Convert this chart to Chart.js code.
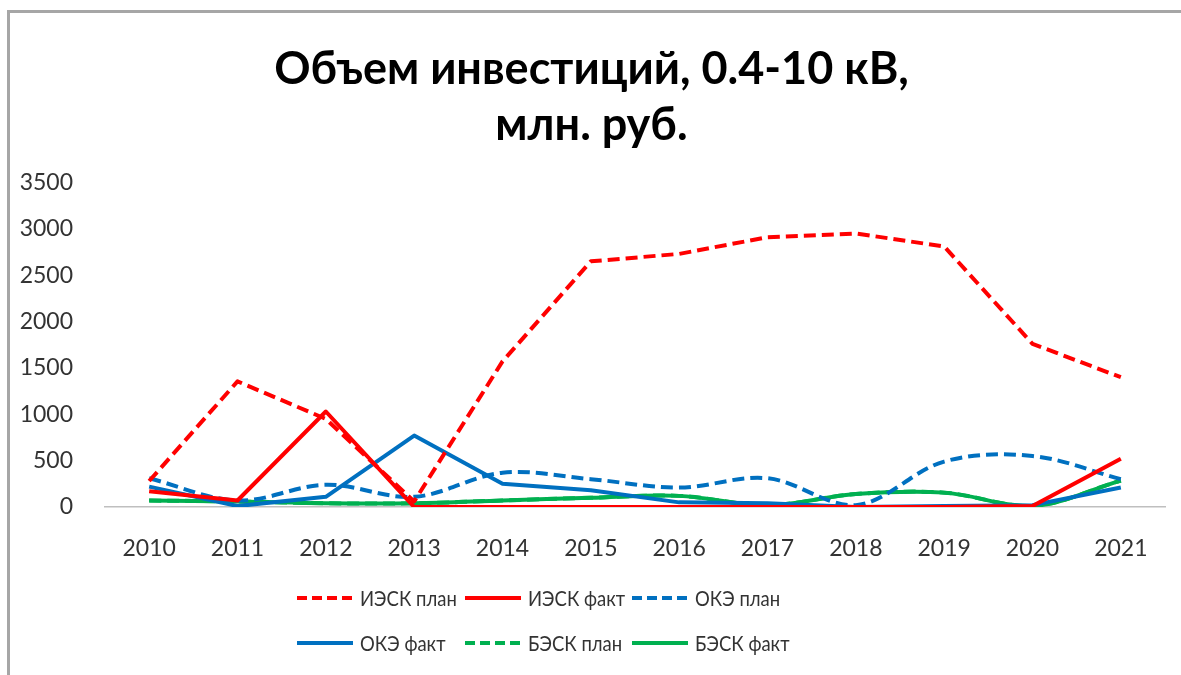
<!DOCTYPE html>
<html lang="ru">
<head>
<meta charset="utf-8">
<title>Объем инвестиций, 0.4-10 кВ</title>
<script src="https://cdn.jsdelivr.net/npm/chart.js@4/dist/chart.umd.min.js"></script>
<style>
    html, body { margin: 0; padding: 0; background: #fff; }
    #marco { position: relative; width: 1181px; height: 675px; overflow: hidden; }
    #marco::before {
        content: ''; position: absolute; left: 7px; top: 10px; right: -10px; bottom: -10px;
        border-left: 3px solid #a6a6a6; border-top: 3px solid #a6a6a6;
    }
    #grafico { position: absolute; left: 0; top: 0; }
    #leyenda {
        position: absolute; left: 297px; top: 575px;
        display: grid; grid-template-columns: repeat(3, 167.5px); grid-auto-rows: 45px;
        font: 22px Lato, sans-serif; color: #333;
    }
    .ley-item { display: flex; align-items: center; white-space: nowrap; }
    .ley-item svg { width: 56px; height: 6px; margin-right: 7px; flex: none; }
    .ley-item span { display: inline-block; transform: scaleX(0.84); transform-origin: left center; }
</style>
</head>
<body>
<div id="marco">
    <canvas id="grafico" width="1181" height="675"></canvas>
    <div id="leyenda"></div>
</div>
<script>
// ── Datos (млн. руб.) ──
const ANIOS = ['2010', '2011', '2012', '2013', '2014', '2015', '2016', '2017', '2018', '2019', '2020', '2021'];

const IESK_PLAN = [280, 1355, 950, 60, 1570, 2650, 2730, 2910, 2950, 2810, 1760, 1400];
const IESK_FACT = [170, 70, 1030, 0, 0, 0, 0, 0, 0, 0, 10, 520];
const OKE_PLAN  = [310, 70, 240, 110, 370, 300, 210, 310, 20, 490, 550, 300];
const OKE_FACT  = [220, 10, 110, 770, 250, 180, 50, 40, 0, 10, 20, 210];
const BESK_PLAN = [70, 60, 40, 40, 70, 100, 120, 20, 140, 155, 10, 285];
const BESK_FACT = [70, 60, 40, 40, 70, 100, 120, 20, 140, 155, 10, 285];

const TITULO = ['Объем инвестиций, 0.4-10 кВ,', 'млн. руб.'];
const Y_MAX  = 3500;
const Y_PASO = 500;

const ROJO  = '#ff0000';
const AZUL  = '#0070c0';
const VERDE = '#00b050';
const DASH  = [12, 6];

function serie(label, data, color, punteada, suave) {
    return {
        label,
        data,
        borderColor: color,
        backgroundColor: color,
        borderDash: punteada ? DASH : [],
        tension: suave ? 0.35 : 0,
        fill: false,
    };
}

const fuente = { family: 'Lato', size: 23 };

const chart = new Chart(document.getElementById('grafico').getContext('2d'), {
    type: 'line',
    data: {
        labels: ANIOS,
        datasets: [
            serie('ИЭСК план', IESK_PLAN, ROJO, true, false),
            serie('ИЭСК факт', IESK_FACT, ROJO, false, false),
            serie('ОКЭ план', OKE_PLAN, AZUL, true, true),
            serie('ОКЭ факт', OKE_FACT, AZUL, false, false),
            serie('БЭСК план', BESK_PLAN, VERDE, true, true),
            serie('БЭСК факт', BESK_FACT, VERDE, false, true),
        ],
    },
    options: {
        responsive: false,
        animation: false,
        devicePixelRatio: 1,
        // padding izquierdo algo mayor: el título se corre hacia la derecha como en el original
        layout: { padding: { top: 41, right: 16, bottom: 108, left: 18 } },
        elements: {
            point: { radius: 0, hoverRadius: 0 },
            line: { borderWidth: 4, borderJoinStyle: 'round' },
        },
        plugins: {
            legend: { display: false },
            tooltip: { enabled: false },
            title: {
                display: true,
                text: TITULO,
                color: '#000',
                font: { family: 'Lato', size: 45, weight: 'bold', lineHeight: 1.25 },
                padding: { top: 0, bottom: 29 },
            },
        },
        scales: {
            x: {
                offset: true,
                grid: { display: false },
                border: { display: true, color: '#bfbfbf', width: 1.5 },
                ticks: { font: fuente, color: '#333', padding: 20, maxRotation: 0 },
                afterFit: s => { s.height = 60; },
            },
            y: {
                min: 0,
                max: Y_MAX,
                grid: { display: false },
                border: { display: false },
                ticks: {
                    stepSize: Y_PASO, font: fuente, color: '#333', padding: 24,
                    callback: v => String(v),
                },
                afterFit: s => { s.width = 87; },
            },
        },
    },
});

// ── Leyenda en HTML: 3 columnas x 2 filas, como en el original ──
document.getElementById('leyenda').innerHTML = chart.data.datasets.map(ds => `
    <div class="ley-item">
        <svg viewBox="0 0 56 6"><line x1="0" y1="3" x2="56" y2="3" stroke="${ds.borderColor}"
            stroke-width="4" ${ds.borderDash.length ? 'stroke-dasharray="10 5"' : ''}/></svg>
        <span>${ds.label}</span>
    </div>`).join('');
</script>
</body>
</html>
